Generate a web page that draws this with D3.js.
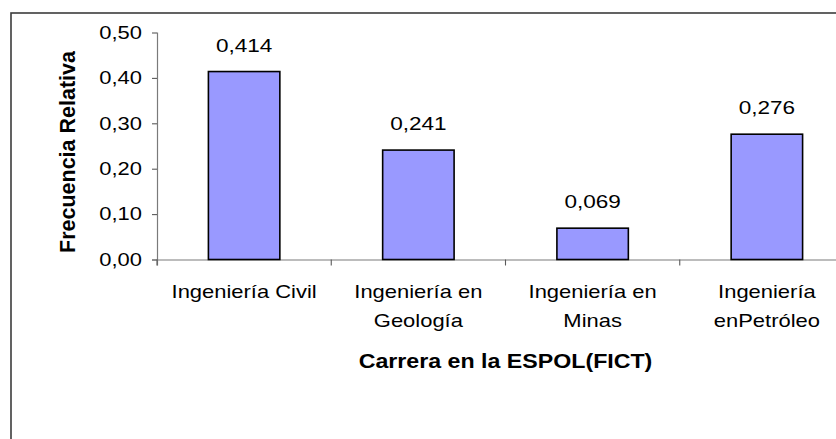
<!DOCTYPE html>
<html>
<head>
<meta charset="utf-8">
<script src="https://cdn.jsdelivr.net/npm/d3@7"></script>
<style>
  html, body { margin: 0; padding: 0; background: #ffffff; }
  svg { display: block; }
  text { font-family: "Liberation Sans", Arial, sans-serif; fill: #000; }
</style>
</head>
<body>
<svg id="chart" width="836" height="439"></svg>
<script>
// ---- data ----
const categories = ["Ingeniería Civil", "Ingeniería en Geología", "Ingeniería en Minas", "Ingeniería enPetróleo"];
const categoryLines = [["Ingeniería Civil"], ["Ingeniería en", "Geología"], ["Ingeniería en", "Minas"], ["Ingeniería", "enPetróleo"]];
const values = [0.414, 0.241, 0.069, 0.276];
const yTicks = [0, 0.1, 0.2, 0.3, 0.4, 0.5];
const yTitle = "Frecuencia Relativa";
const xTitle = "Carrera en la ESPOL(FICT)";

(function () {
const locale = d3.formatLocale({decimal: ",", thousands: ".", grouping: [3], currency: ["$", ""]});
const fmtTick = locale.format(".2f");
const fmtVal = locale.format(".3f");

const svg = d3.select("#chart");
const W = 836, H = 439;
const pLeft = 157, pRight = 854, pTop = 32.5, pBottom = 259.5;
const sx = 1.22; // horizontal text stretch as in the reference

// frame
svg.append("rect")
  .attr("x", 11).attr("y", 13)
  .attr("width", W + 20).attr("height", H + 20)
  .attr("fill", "none").attr("stroke", "#3c3c3c").attr("stroke-width", 1.6);

const x = d3.scaleBand().domain(categories).range([pLeft, pRight])
  .paddingInner(0.59).paddingOuter(0.295);
const y = d3.scaleLinear().domain([0, 0.5]).range([pBottom, pTop]);

// y axis
const gy = svg.append("g").attr("transform", `translate(${pLeft},0)`)
  .call(d3.axisLeft(y).tickValues(yTicks).tickFormat(fmtTick).tickSize(5).tickSizeOuter(0));
gy.select(".domain").attr("stroke", "#7a7a7a").attr("stroke-width", 1.2)
  .attr("d", `M0.5,${pTop}V${pBottom + 6}`);
gy.selectAll(".tick line").attr("stroke", "#5a5a5a").attr("stroke-width", 1.1);
gy.selectAll(".tick text")
  .attr("font-size", 18).attr("font-family", "Liberation Sans, Arial, sans-serif")
  .attr("fill", "#000")
  .attr("x", -15 / sx)
  .attr("transform", `scale(${sx},1)`);

// x axis
const gx = svg.append("g").attr("transform", `translate(0,${pBottom})`)
  .call(d3.axisBottom(x).tickSize(0).tickFormat(""));
gx.select(".domain").attr("stroke", "#7a7a7a").attr("stroke-width", 1.2)
  .attr("d", `M${pLeft - 5},0.5H${W + 10}`);
const boundaries = categories.map(c => x(c) - x.step() * x.paddingInner() / 2).concat([pRight]);
gx.selectAll(".bound").data(boundaries).join("line")
  .attr("class", "bound")
  .attr("x1", d => d).attr("x2", d => d)
  .attr("y1", 0).attr("y2", 6)
  .attr("stroke", "#5a5a5a").attr("stroke-width", 1.1);

// bars
svg.append("g").selectAll("rect").data(values).join("rect")
  .attr("x", (d, i) => x(categories[i]))
  .attr("y", d => y(d))
  .attr("width", x.bandwidth())
  .attr("height", d => y(0) - y(d))
  .attr("fill", "#9999ff")
  .attr("stroke", "#000").attr("stroke-width", 1.6);

// value labels
svg.append("g").selectAll("text").data(values).join("text")
  .attr("transform", (d, i) => `translate(${x(categories[i]) + x.bandwidth() / 2},${y(d) - 20}) scale(${sx},1)`)
  .attr("text-anchor", "middle")
  .attr("font-size", 18.5)
  .text(d => fmtVal(d));

// category labels
const cl = svg.append("g").selectAll("g").data(categoryLines).join("g")
  .attr("transform", (d, i) => `translate(${x(categories[i]) + x.bandwidth() / 2},298) scale(${sx},1)`);
cl.selectAll("text").data(d => d).join("text")
  .attr("text-anchor", "middle")
  .attr("font-size", 18)
  .attr("y", (d, j) => j * 29)
  .text(d => d);

// axis titles
svg.append("text")
  .attr("transform", `translate(${(pLeft + pRight) / 2},368) scale(1.16,1)`)
  .attr("text-anchor", "middle")
  .attr("font-size", 20).attr("font-weight", "bold")
  .text(xTitle);

svg.append("text")
  .attr("transform", `translate(75,${(pTop + pBottom) / 2 + 6}) rotate(-90)`)
  .attr("text-anchor", "middle")
  .attr("font-size", 21.5).attr("font-weight", "bold")
  .text(yTitle);
})();
</script>
</body>
</html>
